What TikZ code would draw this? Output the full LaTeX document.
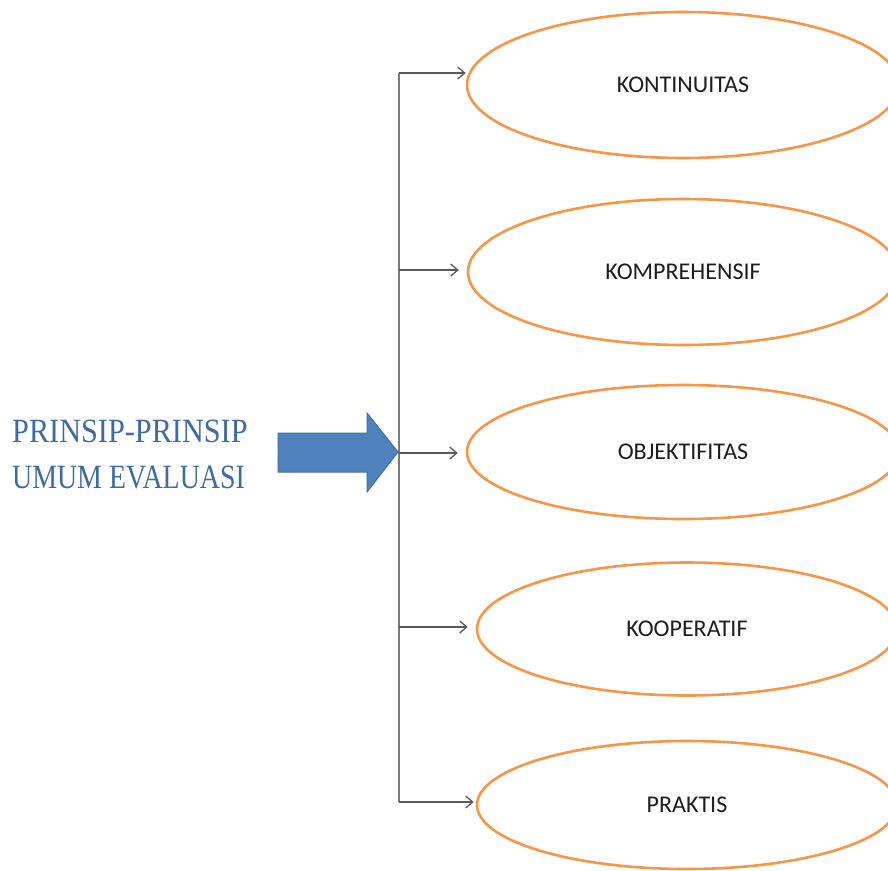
\documentclass[tikz,border=0pt]{standalone}
\usepackage{fontspec}
\usetikzlibrary{shapes.geometric,arrows.meta}
\newfontfamily\labfont{Carlito}
\newfontfamily\titfont{Liberation Serif}
\definecolor{ovalorange}{HTML}{F79646}
\definecolor{arrowblue}{HTML}{4F81BD}
\definecolor{arrowedge}{HTML}{41719C}
\definecolor{titleblue}{HTML}{3E6BA0}
\definecolor{linegray}{HTML}{5A5A5A}
\definecolor{textdark}{HTML}{1E1E1E}
\begin{document}
\begin{tikzpicture}[x=1pt,y=-1pt,
  oval/.style={ellipse,draw=ovalorange,line width=2.6pt,inner sep=0pt,
    minimum width=#1,minimum height=140pt,
    font=\labfont\fontsize{24}{26}\selectfont,text=textdark},
  oval/.default=430pt,
  branch/.style={draw=linegray,line width=1.3pt,-{Straight Barb[length=7pt,width=12pt,line width=1.3pt]}},
  trunkline/.style={draw=linegray!80,line width=1.3pt},
  titletext/.style={font=\titfont\fontsize{34}{46}\selectfont,text=titleblue,anchor=base west,inner sep=0pt}]
\clip (0,0) rectangle (888,870);
\fill[white] (0,0) rectangle (888,870);
% ovals
\node[oval=432pt,minimum height=146pt] (e1) at (683,85) {KONTINUITAS};
\node[oval=430pt,minimum height=146pt] (e2) at (683,272) {KOMPREHENSIF};
\node[oval=432pt,minimum height=134pt] (e3) at (683,452) {OBJEKTIFITAS};
\node[oval=420pt,minimum height=133pt] (e4) at (687,629) {KOOPERATIF};
\node[oval=420pt,minimum height=128pt] (e5) at (687,805) {PRAKTIS};
% trunk
\coordinate (t1) at (399,73);
\coordinate (t2) at (399,270);
\coordinate (t3) at (399,453);
\coordinate (t4) at (399,627);
\coordinate (t5) at (399,802);
\draw[trunkline] (t1) -- (t5);
\draw[branch] (t1) -- (e1.west |- t1);
\draw[branch] (t2) -- ([xshift=-8pt]e2.west |- t2);
\draw[branch] (t3) -- ([xshift=-8pt]e3.west |- t3);
\draw[branch] (t4) -- ([xshift=-8pt]e4.west |- t4);
\draw[branch] (t5) -- ([xshift=-2pt]e5.west |- t5);
% block arrow
\coordinate (tip) at (398,452);
\filldraw[fill=arrowblue,draw=arrowedge,line width=1pt,line join=miter]
  (278,433) -- (367,433) -- (367,413) -- (tip) -- (367,492) -- (367,472) -- (278,472) -- cycle;
% title
\node[titletext] (title1) at (12,442) {\scalebox{0.89}[1]{PRINSIP-PRINSIP}};
\node[titletext] (title2) at (12,488) {\scalebox{0.82}[1]{UMUM EVALUASI}};
\end{tikzpicture}
\end{document}
